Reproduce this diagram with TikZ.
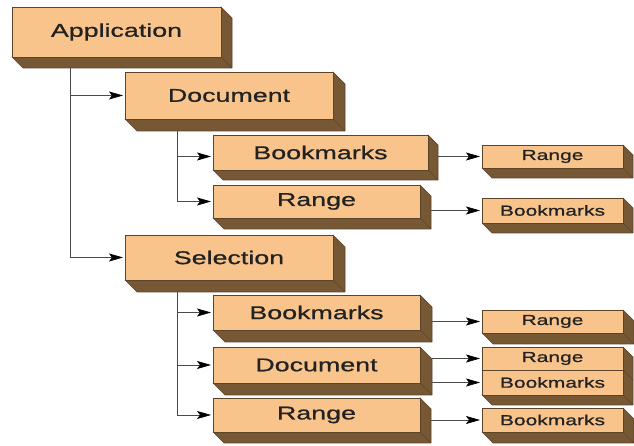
\documentclass[tikz,border=0pt]{standalone}
\usepackage{fontspec}
\newfontfamily\boxfont[FakeStretch=1.45, FakeBold=0.8]{Liberation Sans}
\usetikzlibrary{arrows.meta,backgrounds}

\definecolor{front}{HTML}{F8C48C}
\definecolor{shade}{HTML}{765834}
\definecolor{rim}{HTML}{5C4428}
\definecolor{wire}{HTML}{4A4A4A}
\definecolor{ink}{HTML}{222222}

\tikzset{
    face/.style={draw=rim, fill=front, line width=0.6pt, anchor=north west,
        inner sep=0pt, outer sep=0pt, text=ink,
        font=\boxfont\fontsize{18.5}{20}\selectfont},
    small face/.style={face, font=\boxfont\fontsize{14.5}{16}\selectfont},
    extrusion/.style={draw=rim, fill=shade, line width=0.6pt, line join=round},
    link/.style={draw=wire, line width=0.7pt, shorten >=2pt,
        -{Stealth[length=14pt, width=8pt, inset=3pt, black]}}
}

\begin{document}
\begin{tikzpicture}[x=1pt, y=1pt]
    \useasboundingbox (0, 0) rectangle (634, 446);

    % front faces
    \node[face, minimum width=209, minimum height=50] (app) at (12, 439) {Application};
    \node[face, minimum width=208, minimum height=47] (doc1) at (125, 374) {Document};
    \node[face, minimum width=215, minimum height=35] (bm1) at (213, 311) {Bookmarks};
    \node[face, minimum width=207, minimum height=33] (rg1) at (213, 261) {Range};
    \node[face, minimum width=208, minimum height=45] (sel) at (125, 211) {Selection};
    \node[face, minimum width=207, minimum height=35] (bm2) at (213, 151) {Bookmarks};
    \node[face, minimum width=207, minimum height=36] (doc2) at (213, 99) {Document};
    \node[face, minimum width=207, minimum height=34] (rg2) at (213, 48) {Range};

    \node[small face, minimum width=141, minimum height=23] (s1) at (482, 301) {Range};
    \node[small face, minimum width=141, minimum height=25] (s2) at (482, 248) {Bookmarks};
    \node[small face, minimum width=141, minimum height=23] (s3) at (482, 136) {Range};
    \node[small face, minimum width=141, minimum height=23] (s4) at (482, 99) {Range};
    \node[small face, minimum width=141, minimum height=25] (s5) at (482, 76) {Bookmarks};
    \node[small face, minimum width=141, minimum height=24] (s6) at (482, 38) {Bookmarks};

    % bottom and side of each box
    \begin{scope}[on background layer]
        \foreach \blk/\ext in {app/11, doc1/12, bm1/10, rg1/11, sel/12, bm2/12, doc2/12, rg2/11,
                               s1/10, s2/10, s3/11, s4/10, s5/10, s6/11}
            \filldraw[extrusion] (\blk.south west) -- ++(\ext, -\ext)
                -| ([shift={(\ext, -\ext)}]\blk.north east) -- (\blk.north east)
                -- (\blk.south east) -- cycle
                (\blk.south east) -- ++(\ext, -\ext);
    \end{scope}

    % tree links
    \draw[link] ([shift={(58, -11)}]app.south west) |- (doc1.west);
    \draw[link] ([shift={(58, -11)}]app.south west) |- (sel.west);
    \draw[link] ([shift={(52, -12)}]doc1.south west) |- ([yshift=-4]bm1.west);
    \draw[link] ([shift={(52, -12)}]doc1.south west) |- (rg1.west);
    \draw[link] ([shift={(52, -12)}]sel.south west) |- (bm2.west);
    \draw[link] ([shift={(52, -12)}]sel.south west) |- (doc2.west);
    \draw[link] ([shift={(52, -12)}]sel.south west) |- (rg2.west);

    \draw[link] (s1.west -| bm1.east) ++(10, 0) -- (s1.west);
    \draw[link] (s2.west -| rg1.east) ++(11, 0) -- (s2.west);
    \draw[link] (s3.west -| bm2.east) ++(12, 0) -- (s3.west);
    \draw[link] (s4.west -| doc2.east) ++(12, 0) -- (s4.west);
    \draw[link] (s5.west -| doc2.east) ++(12, 0) -- (s5.west);
    \draw[link] (s6.west -| rg2.east) ++(11, 0) -- (s6.west);
\end{tikzpicture}
\end{document}
